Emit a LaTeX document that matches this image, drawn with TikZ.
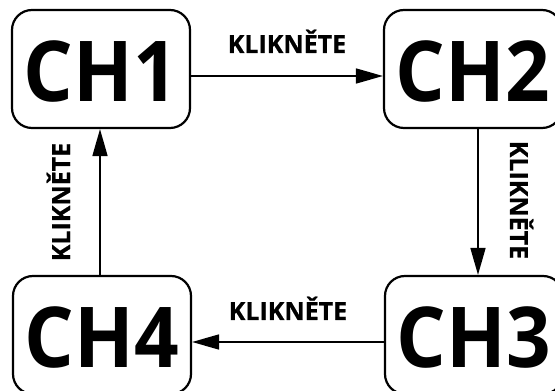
\documentclass[tikz,border=0pt]{standalone}
\usepackage{fontspec}
\setmainfont{Open Sans}
\newfontfamily\bigfont[FakeStretch=0.93]{Open Sans Bold}
\newfontfamily\lblfont[FakeBold=0.6]{Open Sans Bold}
\usetikzlibrary{arrows.meta}
\tikzset{
  chbox/.style={draw=black, line width=2.2pt, rounded corners=20pt,
    minimum width=178pt, minimum height=118pt, inner sep=0pt,
    font=\bigfont\fontsize{84pt}{84pt}\selectfont, text height=66pt, text depth=0pt},
  arr/.style={line width=1.7pt, -{Triangle[length=27pt,width=15pt]}},
  lbl/.style={font=\lblfont\fontsize{25pt}{25pt}\selectfont, inner sep=0pt}
}
\begin{document}
\begin{tikzpicture}[x=1pt,y=1pt]
\useasboundingbox (0,0) rectangle (555,391);
\begin{scope}
\clip (0,0) rectangle (555,391);
\node[chbox] (ch1) at (101,322) {CH1};
\node[chbox] (ch2) at (473,322) {CH2};
\node[chbox] (ch3) at (474,56) {CH3};
\node[chbox] (ch4) at (102,56) {CH4};
\coordinate (ytop) at (0,315);
\coordinate (ybot) at (0,49);
\coordinate (xright) at (478,0);
\coordinate (xleft) at (100,0);
\draw[arr] (ch1.east |- ytop) -- (ch2.west |- ytop);
\draw[arr] (ch2.south -| xright) -- (ch3.north -| xright);
\draw[arr] (ch3.west |- ybot) -- (ch4.east |- ybot);
\draw[arr] (ch4.north -| xleft) -- (ch1.south -| xleft);
\node[lbl, anchor=base] (l1) at (287,338) {KLIKNĚTE};
\node[lbl, anchor=base, rotate=-90] (l2) at (510,191) {KLIKNĚTE};
\node[lbl, anchor=base] (l3) at (288,71) {KLIKNĚTE};
\node[lbl, anchor=base, rotate=90] (l4) at (70,189) {KLIKNĚTE};
\end{scope}
\end{tikzpicture}
\end{document}
